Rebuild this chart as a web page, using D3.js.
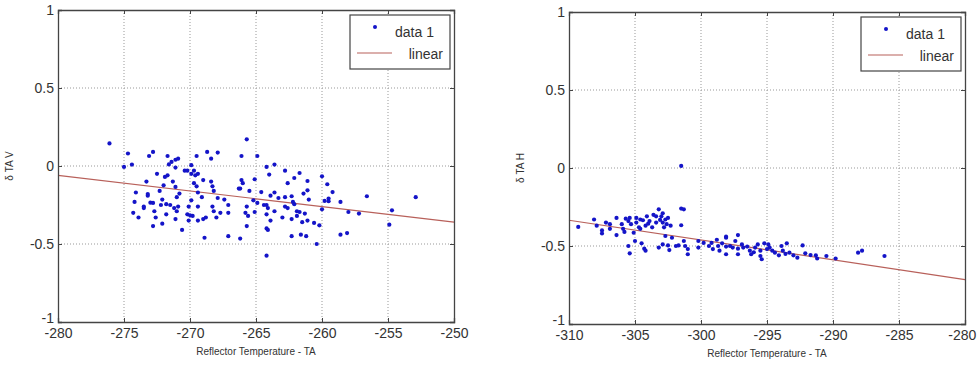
<!DOCTYPE html>
<html>
<head>
<meta charset="utf-8">
<script src="https://cdn.jsdelivr.net/npm/d3@7"></script>
<style>
  body { margin: 0; background: #fff; }
  svg text { font-family: "Liberation Sans", Arial, sans-serif; fill: #333; }
</style>
</head>
<body>
<script>
// values
const leftPoints = [
  [-276.1,0.145],[-274.7,0.08],[-275.0,-0.006],[-274.4,0.009],[-273.1,0.064],[-272.8,0.09],[-271.7,0.064],[-271.6,0.01],
  [-271.4,0.026],[-271.1,0.04],[-270.9,0.047],[-271.1,-0.01],[-272.5,-0.05],[-271.9,-0.07],[-271.7,-0.06],[-272.0,-0.124],
  [-271.3,-0.10],[-273.3,-0.10],[-274.1,-0.17],[-273.2,-0.18],[-272.3,-0.16],[-271.1,-0.134],[-271.0,-0.2],[-270.8,-0.177],
  [-274.2,-0.23],[-273.5,-0.27],[-273.0,-0.235],[-272.8,-0.237],[-272.1,-0.215],[-271.8,-0.245],[-271.5,-0.25],[-272.2,-0.25],
  [-274.3,-0.30],[-272.7,-0.29],[-272.6,-0.33],[-271.8,-0.31],[-271.2,-0.27],[-271.0,-0.29],[-270.9,-0.26],[-271.1,-0.34],
  [-272.8,-0.385],[-272.1,-0.37],[-270.6,-0.41],[-270.4,-0.03],[-270.2,-0.03],[-269.9,0.005],[-269.5,0.064],[-269.7,-0.03],
  [-269.6,-0.06],[-269.9,-0.05],[-269.4,-0.05],[-269.7,-0.11],[-269.5,-0.13],[-269.4,-0.17],[-269.0,-0.09],[-268.7,0.09],
  [-268.4,0.047],[-267.9,0.086],[-268.4,-0.10],[-268.3,-0.13],[-268.2,-0.16],[-269.1,-0.2],[-269.9,-0.22],[-270.1,-0.26],
  [-270.2,-0.31],[-270.0,-0.316],[-270.1,-0.35],[-269.8,-0.32],[-269.4,-0.26],[-269.4,-0.35],[-269.0,-0.34],[-268.8,-0.33],
  [-268.3,-0.26],[-268.2,-0.29],[-268.0,-0.33],[-267.7,-0.30],[-267.9,-0.205],[-267.4,-0.215],[-267.1,-0.25],[-267.1,-0.30],
  [-268.9,-0.46],[-267.1,-0.45],[-266.3,-0.145],[-273.5,-0.26],[-273.2,-0.19],[-273.9,-0.33],
  [-265.7,0.171],[-266.1,0.064],[-264.9,0.064],[-266.1,-0.09],[-266.0,-0.11],[-266.2,-0.145],[-265.5,-0.16],[-265.1,-0.085],
  [-264.2,-0.006],[-263.6,0.009],[-264.0,-0.055],[-264.6,-0.167],[-263.9,-0.19],[-263.6,-0.17],[-263.3,-0.205],[-262.8,-0.03],
  [-262.6,-0.11],[-262.1,-0.077],[-261.7,-0.045],[-261.1,-0.096],[-261.1,-0.156],[-261.4,-0.177],[-262.3,-0.194],[-262.8,-0.2],
  [-262.2,-0.23],[-262.1,-0.245],[-261.0,-0.215],[-265.2,-0.22],[-265.7,-0.26],[-264.9,-0.237],[-264.4,-0.25],[-264.1,-0.27],
  [-264.2,-0.25],[-263.6,-0.29],[-262.8,-0.26],[-262.6,-0.27],[-261.9,-0.29],[-261.7,-0.295],[-261.3,-0.305],[-265.8,-0.30],
  [-265.6,-0.32],[-265.1,-0.295],[-264.2,-0.31],[-263.0,-0.33],[-262.3,-0.34],[-261.9,-0.32],[-263.9,-0.35],[-261.5,-0.36],
  [-261.1,-0.35],[-260.6,-0.365],[-260.2,-0.38],[-265.7,-0.385],[-264.2,-0.40],[-264.1,-0.41],[-262.3,-0.45],[-261.6,-0.44],
  [-261.2,-0.45],[-266.2,-0.465],[-264.2,-0.575],[-260.4,-0.50],[-260.0,-0.066],[-259.6,-0.117],[-259.2,-0.167],[-259.8,-0.224],
  [-259.5,-0.209],[-259.5,-0.226],[-260.0,-0.278],[-258.6,-0.23],[-258.0,-0.295],[-257.2,-0.305],[-256.6,-0.194],[-258.6,-0.44],
  [-258.1,-0.43],[-254.7,-0.284],[-254.9,-0.376],[-252.9,-0.2]
];

const rightPoints = [
  [-301.5,0.013],[-309.3,-0.378],[-308.1,-0.33],[-307.9,-0.37],[-307.5,-0.40],[-307.5,-0.42],[-307.2,-0.35],[-306.9,-0.39],
  [-306.4,-0.32],[-306.4,-0.43],[-306.0,-0.36],[-305.9,-0.39],[-305.7,-0.325],[-305.5,-0.34],[-305.4,-0.32],[-305.3,-0.36],
  [-305.1,-0.415],[-304.9,-0.32],[-304.9,-0.35],[-304.7,-0.38],[-304.6,-0.39],[-304.4,-0.335],[-304.2,-0.37],[-304.1,-0.31],
  [-304.0,-0.357],[-303.9,-0.34],[-303.7,-0.38],[-303.4,-0.31],[-303.2,-0.265],[-303.1,-0.333],[-302.9,-0.29],[-302.9,-0.35],
  [-302.7,-0.33],[-302.5,-0.32],[-302.3,-0.37],[-301.3,-0.265],[-301.5,-0.367],[-305.5,-0.5],[-305.4,-0.547],[-305.0,-0.468],
  [-304.5,-0.483],[-304.3,-0.517],[-304.2,-0.53],[-303.2,-0.51],[-302.9,-0.49],[-302.7,-0.436],[-302.5,-0.496],[-302.4,-0.526],
  [-302.2,-0.447],[-301.9,-0.5],[-301.7,-0.496],[-301.3,-0.468],[-301.2,-0.5],[-301.0,-0.52],[-301.0,-0.553],[-300.2,-0.468],
  [-300.2,-0.51],[-299.8,-0.48],[-299.4,-0.5],[-299.2,-0.48],[-299.1,-0.52],[-298.8,-0.46],[-298.7,-0.5],[-298.6,-0.53],
  [-298.4,-0.483],[-298.1,-0.447],[-298.1,-0.504],[-298.1,-0.553],[-302.6,-0.36],[-303.4,-0.35],[-301.5,-0.26],
  [-306.9,-0.36],[-305.8,-0.41],[-304.6,-0.33],[-303.6,-0.3],[-303.0,-0.31],[-302.8,-0.38],
  [-298.1,-0.44],[-297.2,-0.43],[-297.4,-0.468],[-297.8,-0.5],[-297.6,-0.51],[-297.2,-0.517],[-297.2,-0.553],[-296.8,-0.51],
  [-296.5,-0.504],[-296.3,-0.53],[-296.2,-0.553],[-295.9,-0.51],[-295.7,-0.49],[-295.5,-0.53],[-295.5,-0.564],[-295.4,-0.585],
  [-295.2,-0.483],[-295.0,-0.52],[-294.9,-0.49],[-294.6,-0.53],[-294.4,-0.543],[-294.1,-0.56],[-293.8,-0.53],[-293.5,-0.483],
  [-293.6,-0.55],[-293.3,-0.543],[-293.0,-0.56],[-292.7,-0.575],[-292.3,-0.496],[-292.1,-0.547],[-291.7,-0.558],[-291.3,-0.56],
  [-291.2,-0.58],[-290.5,-0.564],[-289.8,-0.58],[-288.1,-0.543],[-287.8,-0.53],[-286.1,-0.564],
  [-296.9,-0.49],[-296.0,-0.54],[-294.8,-0.51],[-293.9,-0.5]
];

// fitted lines, end points
const leftFit = [[-280, -0.06], [-250, -0.36]];
const rightFit = [[-310, -0.335], [-280, -0.715]];

const leftXTicks = [-280, -275, -270, -265, -260, -255, -250];
const rightXTicks = [-310, -305, -300, -295, -290, -285, -280];
const yTicks = [-1, -0.5, 0, 0.5, 1];

const xLabel = "Reflector Temperature - TA";
const legendLabels = ["data 1", "linear"];

const W = 977, H = 366;
const svg = d3.select("body").append("svg")
  .attr("width", W)
  .attr("height", H);

// plain hyphen for negatives, like the original
const fmt = d => String(d);

function drawPanel(box, points, fit, xTicks, yLabel) {
  const x = d3.scaleLinear().domain([xTicks[0], xTicks[xTicks.length - 1]]).range([box.left, box.right]);
  const y = d3.scaleLinear().domain([-1, 1]).range([box.bottom, box.top]);
  const g = svg.append("g");

  // grid
  g.selectAll(".gx").data(xTicks.slice(1, -1)).enter().append("line")
    .attr("x1", d => x(d)).attr("x2", d => x(d))
    .attr("y1", box.top).attr("y2", box.bottom)
    .attr("stroke", "#999").attr("stroke-dasharray", "1,2");
  g.selectAll(".gy").data(yTicks.slice(1, -1)).enter().append("line")
    .attr("y1", d => y(d)).attr("y2", d => y(d))
    .attr("x1", box.left).attr("x2", box.right)
    .attr("stroke", "#999").attr("stroke-dasharray", "1,2");

  // fit line
  g.append("path")
    .datum(fit)
    .attr("d", d3.line().x(d => x(d[0])).y(d => y(d[1])))
    .attr("stroke", "#b8605a").attr("stroke-width", 1.2).attr("fill", "none");

  // points
  g.selectAll(".pt").data(points).enter().append("circle")
    .attr("cx", d => x(d[0])).attr("cy", d => y(d[1]))
    .attr("r", 2.1)
    .attr("fill", "#1414c8");

  // axes
  const xa = g.append("g").attr("transform", `translate(0,${box.bottom})`)
    .call(d3.axisBottom(x).tickValues(xTicks).tickSize(-4).tickPadding(8).tickFormat(fmt));
  const xt = g.append("g").attr("transform", `translate(0,${box.top})`)
    .call(d3.axisTop(x).tickValues(xTicks).tickSize(-4).tickFormat(""));
  const ya = g.append("g").attr("transform", `translate(${box.left},0)`)
    .call(d3.axisLeft(y).tickValues(yTicks).tickSize(-4).tickPadding(4).tickFormat(fmt));
  const yr = g.append("g").attr("transform", `translate(${box.right},0)`)
    .call(d3.axisRight(y).tickValues(yTicks).tickSize(-4).tickFormat(""));
  [xa, xt, ya, yr].forEach(a => {
    a.select(".domain").attr("stroke", "#444").attr("stroke-width", 1.3);
    a.selectAll(".tick line").attr("stroke", "#444");
    a.selectAll("text").attr("font-size", 14).attr("fill", "#333")
      .attr("font-family", "'Liberation Sans', Arial, sans-serif");
  });
  xa.selectAll("text").attr("dy", "0.6em");
  // keep the last x label inside the window
  xa.selectAll(".tick text").each(function () {
    const bb = this.getBBox();
    const tickX = x(d3.select(this).datum());
    const over = tickX + bb.x + bb.width - (W - 1);
    if (over > 0) d3.select(this).attr("x", -over);
  });
  // the bottom y label sits a little higher so it clears the x labels
  ya.selectAll(".tick").filter(d => d === -1).select("text").attr("dy", "0.05em");

  // labels
  g.append("text")
    .attr("x", (box.left + box.right) / 2).attr("y", box.bottom + 33)
    .attr("text-anchor", "middle").attr("font-size", 10)
    .text(xLabel);
  g.append("text")
    .attr("transform", `translate(${box.left - 45},${(box.top + box.bottom) / 2}) rotate(-90)`)
    .attr("text-anchor", "middle").attr("font-size", 10)
    .text(yLabel);

  // legend
  const lg = g.append("g").attr("transform", `translate(${box.right - 104},${box.top + 5})`);
  lg.append("rect").attr("width", 100).attr("height", 54)
    .attr("fill", "#fff").attr("stroke", "#444").attr("stroke-width", 1.2);
  lg.append("circle").attr("cx", 25).attr("cy", 12).attr("r", 2).attr("fill", "#1414c8");
  lg.append("text").attr("x", 45).attr("y", 22).attr("font-size", 14).text(legendLabels[0]);
  lg.append("line").attr("x1", 7).attr("x2", 42).attr("y1", 38).attr("y2", 38)
    .attr("stroke", "#b8605a").attr("stroke-width", 1.2);
  lg.append("text").attr("x", 93).attr("y", 44).attr("text-anchor", "end")
    .attr("font-size", 14).text(legendLabels[1]);
}

drawPanel({ left: 58, right: 454, top: 10, bottom: 322 }, leftPoints, leftFit, leftXTicks, "δ TA V");
drawPanel({ left: 569, right: 965, top: 12, bottom: 324 }, rightPoints, rightFit, rightXTicks, "δ TA H");
</script>
</body>
</html>
